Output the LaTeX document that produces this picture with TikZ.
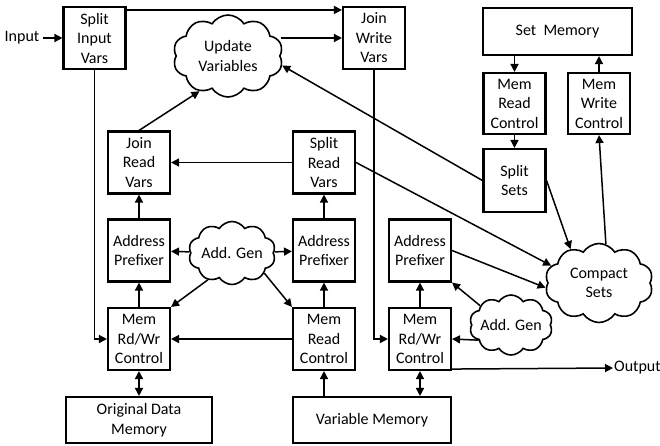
\documentclass[tikz,border=0pt]{standalone}
\usepackage{fontspec}
\setmainfont{Carlito}
\usetikzlibrary{arrows.meta,shapes.symbols}
\begin{document}
\begin{tikzpicture}[x=1pt,y=-1pt,
    font=\fontsize{16}{19.5}\selectfont,
    blk/.style={draw,line width=2.1pt,align=center,inner sep=0pt,minimum width=62pt,minimum height=62pt},
    mem/.style={blk,minimum height=46pt},
    puff/.style={draw,line width=1.6pt,cloud,cloud puffs=10,cloud puff arc=115,cloud ignores aspect,inner xsep=-6pt,inner ysep=-4pt,align=center},
    arr/.style={line width=1.5pt,-{Triangle[length=8pt,width=8pt]}},
    biarr/.style={line width=1.5pt,{Triangle[length=8pt,width=8pt]}-{Triangle[length=8pt,width=8pt]}}]
    \useasboundingbox (0,0) rectangle (660,445);
    %% top row
    \node[blk] (siv) at (94.5,38) {Split\\Input\\Vars};
    \node[blk] (jwv) at (374,38) {Join\\Write\\Vars};
    \node[puff,minimum width=110pt,minimum height=82pt] (upd) at (228,56) {Update\\Variables};
    \node (in) at (22,38) {Input};
    %% set memory side
    \node[mem,minimum width=149pt,minimum height=47pt] (sm) at (557.5,31.5) {Set\ \ Memory};
    \node[blk,minimum height=61pt] (mrc2) at (514.5,103.5) {Mem\\Read\\Control};
    \node[blk,minimum height=61pt] (mwc) at (599,103.5) {Mem\\Write\\Control};
    \node[blk,minimum height=63pt] (ss) at (514.5,180.5) {Split\\Sets};
    \node[puff,minimum width=108pt,minimum height=79pt] (cs) at (599,283) {Compact\\Sets};
    %% read / prefix / control columns
    \node[blk] (jrv) at (139,162.5) {Join\\Read\\Vars};
    \node[blk] (srv) at (324,162.5) {Split\\Read\\Vars};
    \node[blk] (ap1) at (139,250.5) {Address\\Prefixer};
    \node[blk] (ap2) at (324,250.5) {Address\\Prefixer};
    \node[blk] (ap3) at (420,250.5) {Address\\Prefixer};
    \node[puff,minimum width=87pt,minimum height=63pt] (ag1) at (232,253) {Add. Gen};
    \node[puff,minimum width=83pt,minimum height=60pt] (ag2) at (511,325) {Add. Gen};
    \node[blk] (mrw1) at (139,339) {Mem\\Rd/Wr\\Control};
    \node[blk] (mrc) at (324,339) {Mem\\Read\\Control};
    \node[blk] (mrw2) at (420,339) {Mem\\Rd/Wr\\Control};
    %% memories
    \node[mem,minimum width=146pt] (odm) at (139,420) {Original Data\\Memory};
    \node[mem,minimum width=158pt] (vm) at (372,420) {Variable Memory};
    \node[anchor=west,inner sep=1pt] (out) at (613,368) {Output};
    %% connectors
    \draw[arr] (in) -- (siv);
    \draw[arr] ([yshift=-4pt]siv.north east) -- ([yshift=-4pt]jwv.north west);
    \draw[arr] (upd.east |- jwv.west) -- (jwv.west);
    \draw[arr] (jrv.north) -- (upd.231);
    \draw[arr] (ss.west) -- (upd.-10);
    \draw[arr] (siv.south) |- (mrw1.west);
    \draw[arr] (jwv.south) |- (mrw2.west);
    \foreach \a/\b in {ap1/jrv,ap2/srv,mrw1/ap1,mrc/ap2,mrw2/ap3,srv/jrv,mrc/mrw1,mrc2/ss,ag1/ap1,ag1/ap2}
        \draw[arr] (\a) -- (\b);
    \draw[arr] (sm.south -| mrc2.north) -- (mrc2.north);
    \draw[arr] (mwc.north) -- (mwc.north |- sm.south);
    \draw[arr] (cs.80) -- (mwc.south);
    \draw[arr] (ss.east) -- (cs.130);
    \draw[arr] (srv.east) -- (cs.160);
    \draw[arr] (ap3.east) -- (cs.185);
    \draw[arr] (ag1.228) -- (mrw1.north east);
    \draw[arr] (ag1.-32) -- (mrc.north west);
    \draw[arr] (ag2.148) -- (ap3.south east);
    \draw[arr] (ag2.205) -- (mrw2.east);
    \draw[arr] (vm.north -| mrc.south) -- (mrc.south);
    \draw[biarr] (mrw1.south) -- (odm.north);
    \draw[biarr] (mrw2.south) -- (mrw2.south |- vm.north);
    \draw[arr] ([yshift=2pt]mrw2.south east) -- (out.west);
\end{tikzpicture}
\end{document}
